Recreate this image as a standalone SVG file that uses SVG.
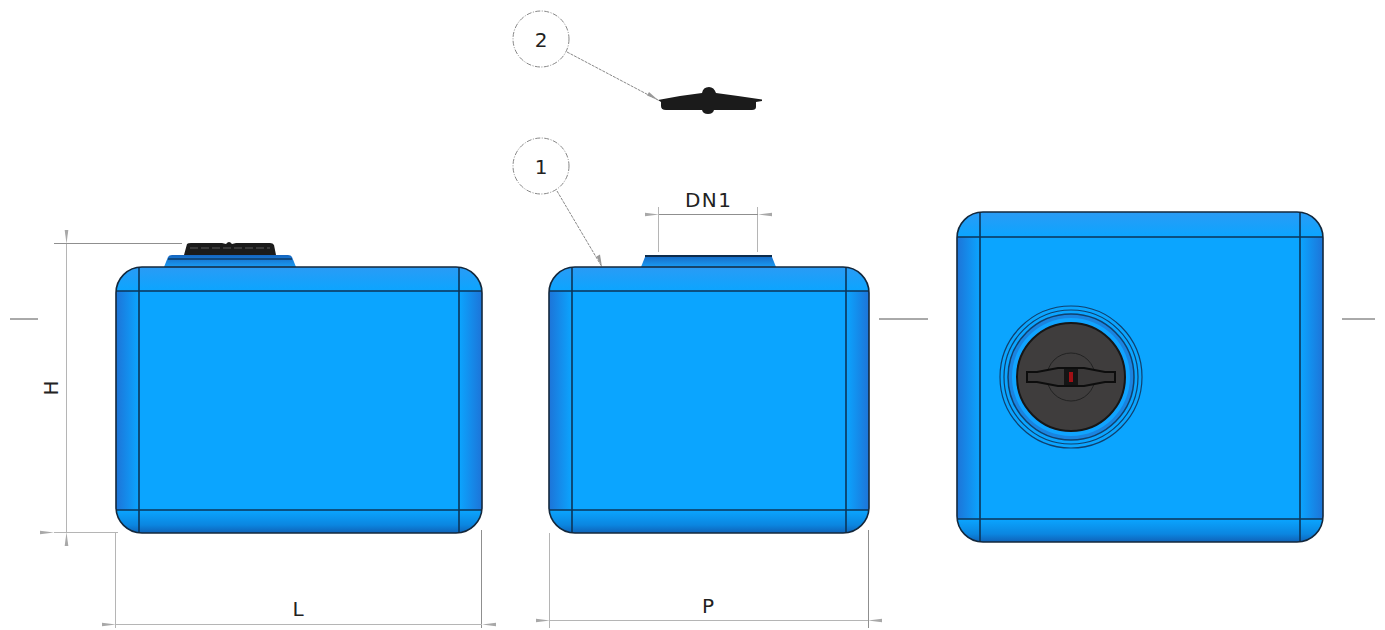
<svg xmlns="http://www.w3.org/2000/svg" xmlns:xlink="http://www.w3.org/1999/xlink" width="1385" height="630" viewBox="0 0 1385 630">
<style>
.t{font-family:"DejaVu Sans","Liberation Sans",sans-serif;font-size:20px;fill:#222}
.dim{stroke:#b5b5b5;stroke-width:1;fill:none}
.dimd{stroke:#8f8f8f;stroke-width:1;fill:none}
.edge{fill:none;stroke:#14283c;stroke-width:1.6}
.seam{stroke:#0c3558;stroke-width:1.6}
.axis{stroke:#555;stroke-width:1}
.bub{fill:#fff;stroke:#888;stroke-width:1;stroke-dasharray:5 1.5 1 1.5}
.lead{stroke:#888;stroke-width:1;stroke-dasharray:3 1;fill:none}
.body{fill:#0ba5ff}
.cap{fill:#1b1b1b}
</style>
<defs>
<linearGradient id="gL" x1="0" x2="1" y1="0" y2="0"><stop offset="0" stop-color="#1d74d8"/><stop offset="1" stop-color="#0ba5ff"/></linearGradient>
<linearGradient id="gR" x1="1" x2="0" y1="0" y2="0"><stop offset="0" stop-color="#1d74d8"/><stop offset="1" stop-color="#0ba5ff"/></linearGradient>
<linearGradient id="gB" x1="0" x2="0" y1="1" y2="0"><stop offset="0" stop-color="#0f62b8"/><stop offset="0.35" stop-color="#0b86e0"/><stop offset="1" stop-color="#0ba5ff"/></linearGradient>
<linearGradient id="gT" x1="0" x2="0" y1="0" y2="1"><stop offset="0" stop-color="#2a9bf5"/><stop offset="1" stop-color="#0ba5ff"/></linearGradient>
<linearGradient id="gN" x1="0" x2="0" y1="0" y2="1"><stop offset="0" stop-color="#1565c0"/><stop offset="1" stop-color="#1a9cf5"/></linearGradient>
<marker id="ah" markerWidth="14" markerHeight="6" refX="0" refY="3" orient="auto-start-reverse" markerUnits="userSpaceOnUse"><path d="M0 3L14 1.2V4.8Z" fill="#a8a8a8"/></marker>
<clipPath id="c1"><rect x="116" y="267" width="366" height="266" rx="26"/></clipPath>
<clipPath id="c2"><rect x="549" y="267" width="320" height="266" rx="26"/></clipPath>
<clipPath id="c3"><rect x="957" y="212" width="366" height="330" rx="26"/></clipPath>
</defs>
<rect width="1385" height="630" fill="#fff"/>

<g id="connectors">
<path class="axis" d="M10 319H38M879 319H928M1342 319H1375"/>
<path class="dimd" d="M54 243.500H182"/>
<path class="dim" d="M54 532.500H118M66.500 244V532" marker-start="url(#ah)"/>
<path class="dim" d="M66.500 244V532" marker-start="url(#ah)" marker-end="url(#ah)"/>
<path class="dim" d="M115.500 533V628M549.500 533V628"/>
<path class="dimd" d="M481.500 530V628M868.500 530V628"/>
<path class="dim" d="M116 624.500H482" marker-start="url(#ah)" marker-end="url(#ah)"/>
<path class="dim" d="M550 620.500H868" marker-start="url(#ah)" marker-end="url(#ah)"/>
<path class="dim" d="M658.500 207V252M757.500 207V252"/>
<path class="dimd" d="M659 214.500H758" marker-start="url(#ah)" marker-end="url(#ah)"/>
<path class="lead" d="M567 52L658 100"/>
<path class="lead" d="M557 191L602 267"/>
<path d="M602 267L596.500 256.500L600 254.500Z" fill="#999"/>
<path d="M658 100L647 95.500L649 92Z" fill="#999"/>
</g>

<g id="tank-front">
<path d="M164 267L168 257Q169 255 172 255H288Q291 255 292 257L296 267Z" fill="url(#gN)"/>
<path d="M168 259H292" stroke="#0d3a66" stroke-width="1.500"/>
<path class="cap" d="M184 255L187 244Q188 243 191 243H222L226 244Q229 240 232 244L236 243H270Q273 243 274 245L276 255Z"/>
<path d="M190 248H270" stroke="#3a3a3a" stroke-width="2" stroke-dasharray="8 3"/>
<g clip-path="url(#c1)">
<rect class="body" x="116" y="267" width="366" height="266"/>
<rect x="116" y="267" width="23" height="266" fill="url(#gL)"/>
<rect x="459" y="267" width="23" height="266" fill="url(#gR)"/>
<rect x="116" y="510" width="366" height="23" fill="url(#gB)"/>
<rect x="116" y="267" width="366" height="24" fill="url(#gT)"/>
</g>
<path class="seam" d="M139 267V533M459 267V533M116 291H482M116 510H482"/>
<rect class="edge" x="116" y="267" width="366" height="266" rx="26"/>
</g>

<g id="tank-side">
<path d="M641 267L645 257Q646 255 649 255H769Q771 255 772 257L776 267Z" fill="url(#gN)"/>
<path d="M645 256H772" stroke="#0d2c4c" stroke-width="2"/>
<g clip-path="url(#c2)">
<rect class="body" x="549" y="267" width="320" height="266"/>
<rect x="549" y="267" width="23" height="266" fill="url(#gL)"/>
<rect x="846" y="267" width="23" height="266" fill="url(#gR)"/>
<rect x="549" y="510" width="320" height="23" fill="url(#gB)"/>
<rect x="549" y="267" width="320" height="24" fill="url(#gT)"/>
</g>
<path class="seam" d="M572 267V533M846 267V533M549 291H869M549 510H869"/>
<rect class="edge" x="549" y="267" width="320" height="266" rx="26"/>
</g>

<g id="tank-top">
<g clip-path="url(#c3)">
<rect class="body" x="957" y="212" width="366" height="330"/>
<rect x="957" y="212" width="23" height="330" fill="url(#gL)"/>
<rect x="1300" y="212" width="23" height="330" fill="url(#gR)"/>
<rect x="957" y="519" width="366" height="23" fill="url(#gB)"/>
<rect x="957" y="212" width="366" height="25" fill="url(#gT)"/>
</g>
<path class="seam" d="M980 212V542M1300 212V542M957 237H1323M957 519H1323"/>
<rect class="edge" x="957" y="212" width="366" height="330" rx="26"/>
<circle cx="1071" cy="377" r="71" fill="none" stroke="#10406e" stroke-width="1.200"/>
<circle cx="1071" cy="377" r="67" fill="none" stroke="#10406e" stroke-width="1.200"/>
<circle cx="1071" cy="377" r="63" fill="#1a84e0" stroke="#10406e" stroke-width="1.500"/>
<circle cx="1071" cy="377" r="59" fill="#10a4ff"/>
<circle cx="1071" cy="377" r="54" fill="#3f3d3d" stroke="#161616" stroke-width="2"/>
<circle cx="1071" cy="377" r="24" fill="none" stroke="#222" stroke-width="1"/>
<path d="M1027 372H1037L1058 368H1084L1105 372H1115V382H1105L1084 386H1058L1037 382H1027Z" fill="#3a3838" stroke="#0d0d0d" stroke-width="2"/>
<rect x="1064" y="369" width="14" height="16" fill="#151515"/>
<rect x="1069" y="372" width="4" height="10" fill="#a01015"/>
</g>

<g id="part-2">
<path class="cap" d="M658 100L680 96L702 93Q703 87 709 87Q714 87 716 93L738 96L762 99.500V101L756 102V107Q756 110 752 110H714Q713 114 708 114Q703 114 702 110H666Q661 110 661 106V102Z"/>
</g>

<g id="bubble-2"><circle class="bub" cx="541" cy="39" r="28"/><text class="t" x="541" y="47" text-anchor="middle">2</text></g>
<g id="bubble-1"><circle class="bub" cx="541" cy="166" r="28"/><text class="t" x="541" y="174" text-anchor="middle">1</text></g>
<g id="labels">
<text class="t" x="708" y="207" text-anchor="middle" textLength="46">DN1</text>
<text class="t" x="298" y="616" text-anchor="middle">L</text>
<text class="t" x="708" y="613" text-anchor="middle">P</text>
<text class="t" transform="translate(58 388) rotate(-90)" text-anchor="middle">H</text>
</g>
</svg>
